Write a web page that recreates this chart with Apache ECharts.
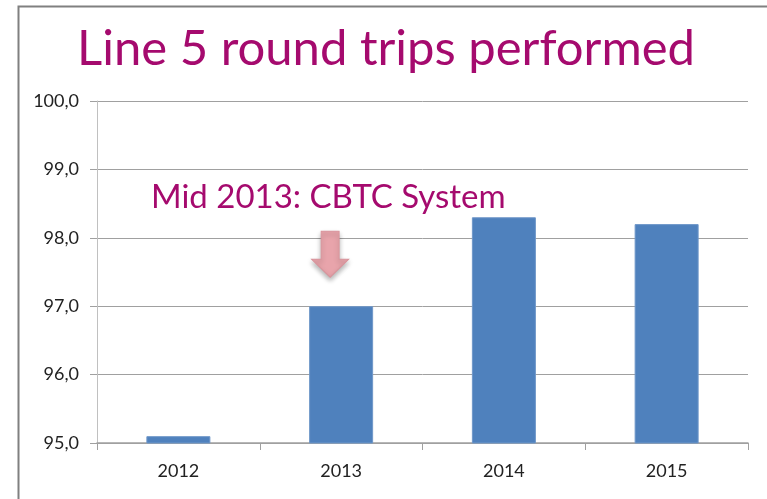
<!DOCTYPE html>
<html>
<head>
<meta charset="utf-8">
<script src="https://cdn.jsdelivr.net/npm/echarts@6/dist/echarts.min.js"></script>
<style>
html, body { margin: 0; padding: 0; background: #fff; }
#chart { width: 767px; height: 499px; }
</style>
</head>
<body>
<div id="chart"></div>
<script>
var years = ["2012", "2013", "2014", "2015"];
var tripsPerformed = [95.1, 97.0, 98.3, 98.2];
var yTicks = [95, 100, 1];

var purple = "#a50a6e";
var myChart = echarts.init(document.getElementById("chart"));

// pink arrow pointing down at the 2013 bar
var arrowPath = "path://M9.5,0 L27.5,0 L27.5,28 L37,28 L18.5,46 L0,28 L9.5,28 Z";

var option = {
    animation: false,
    textStyle: { fontFamily: "Lato" },
    title: {
        text: "Line 5 round trips performed",
        left: 72,
        top: 20,
        textStyle: { color: purple, fontSize: 49, fontWeight: "normal", fontFamily: "Lato" }
    },
    grid: { left: 97, right: 19, top: 101, bottom: 56, containLabel: false },
    xAxis: {
        type: "category",
        data: years,
        axisLine: { lineStyle: { color: "#a0a0a0", width: 1.5 } },
        axisTick: { show: true, length: 7, lineStyle: { color: "#a0a0a0" } },
        axisLabel: { color: "#222", fontSize: 18, margin: 19 }
    },
    yAxis: {
        type: "value",
        min: yTicks[0],
        max: yTicks[1],
        interval: yTicks[2],
        axisLine: { show: true, lineStyle: { color: "#c0c0c0" } },
        axisTick: { show: true, length: 7, lineStyle: { color: "#a0a0a0" } },
        axisLabel: {
            color: "#222",
            fontSize: 18,
            margin: 18,
            formatter: function(v) { return v.toFixed(1).replace(".", ","); }
        },
        splitLine: { lineStyle: { color: "#a0a0a0", width: 1 } }
    },
    series: [{
        type: "bar",
        data: tripsPerformed,
        barWidth: 64,
        itemStyle: { color: "#4f81bd", borderColor: "#6f97c9", borderWidth: 1 },
        markPoint: {
            symbol: arrowPath,
            symbolSize: [37, 46],
            symbolOffset: [-11, 0],
            label: { show: false },
            itemStyle: {
                color: "#e8a4ab",
                borderColor: "#d9939b",
                borderWidth: 1,
                shadowColor: "rgba(0,0,0,0.3)",
                shadowBlur: 5,
                shadowOffsetY: 3
            },
            data: [{ coord: ["2013", 97.76] }]
        }
    }],
    graphic: [
        {
            type: "rect",
            left: 16,
            top: 4,
            shape: { width: 820, height: 600 },
            style: { fill: "none", stroke: "#808080", lineWidth: 2 },
            silent: true
        },
        {
            type: "text",
            left: 151,
            top: 181,
            style: {
                text: "Mid 2013: CBTC System",
                fill: purple,
                fontSize: 33,
                fontFamily: "Lato"
            }
        }
    ]
};
myChart.setOption(option);
</script>
</body>
</html>
